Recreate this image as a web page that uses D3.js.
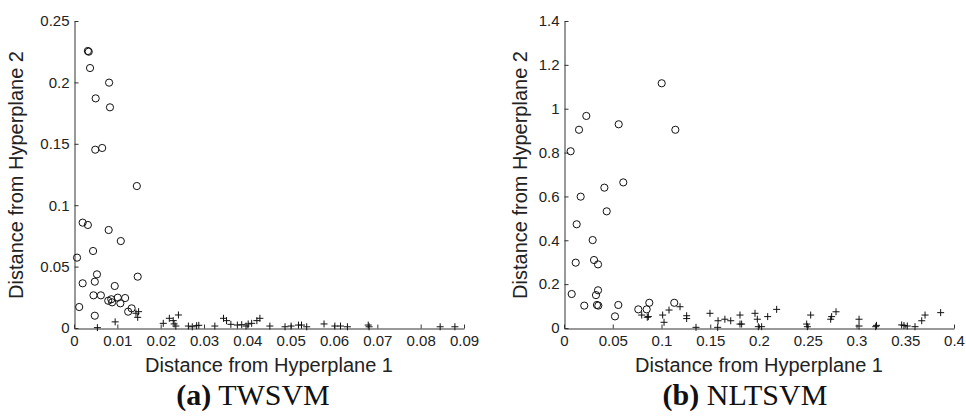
<!DOCTYPE html>
<html>
<head>
<meta charset="utf-8">
<script src="https://cdn.jsdelivr.net/npm/d3@7"></script>
<style>
  html, body { margin: 0; padding: 0; background: #fff; }
  svg { display: block; }
</style>
</head>
<body>
<svg id="chart" width="966" height="417"></svg>
<script>
// (a) TWSVM : [distance from hyperplane 1, distance from hyperplane 2]
const twsvmClass1 = [
  [0.0032, 0.2256], [0.0034, 0.2250], [0.0037, 0.2117], [0.0081, 0.1998], [0.0050, 0.1870],
  [0.0083, 0.1797], [0.0049, 0.1452], [0.0065, 0.1466], [0.0145, 0.1156], [0.0020, 0.0858],
  [0.0032, 0.0839], [0.0080, 0.0798], [0.0108, 0.0708], [0.0044, 0.0627], [0.0007, 0.0573],
  [0.0053, 0.0437], [0.0147, 0.0418], [0.0020, 0.0364], [0.0048, 0.0377], [0.0094, 0.0342],
  [0.0045, 0.0266], [0.0062, 0.0266], [0.0079, 0.0222], [0.0086, 0.0234], [0.0088, 0.0209],
  [0.0101, 0.0247], [0.0107, 0.0201], [0.0118, 0.0244], [0.0125, 0.0133], [0.0133, 0.0160],
  [0.0012, 0.0171], [0.0048, 0.0100]
];
const twsvmClass2 = [
  [0.0054, 0.0003], [0.0095, 0.0050], [0.0143, 0.0120], [0.0149, 0.0133], [0.0147, 0.0087],
  [0.0206, 0.0038], [0.0220, 0.0079], [0.0229, 0.0060], [0.0241, 0.0106], [0.0231, 0.0033],
  [0.0235, 0.0016], [0.0264, 0.0016], [0.0273, 0.0010], [0.0283, 0.0019], [0.0288, 0.0022],
  [0.0325, 0.0016], [0.0345, 0.0079], [0.0352, 0.0060], [0.0362, 0.0030], [0.0377, 0.0024],
  [0.0387, 0.0027], [0.0397, 0.0016], [0.0402, 0.0033], [0.0410, 0.0038], [0.0422, 0.0060],
  [0.0429, 0.0079], [0.0452, 0.0016], [0.0487, 0.0010], [0.0501, 0.0016], [0.0518, 0.0024],
  [0.0525, 0.0024], [0.0537, 0.0010], [0.0577, 0.0033], [0.0602, 0.0016], [0.0615, 0.0016],
  [0.0631, 0.0010], [0.0679, 0.0024], [0.0681, 0.0010], [0.0845, 0.0010], [0.0879, 0.0010]
];
const twsvmXTicks = [0, 0.01, 0.02, 0.03, 0.04, 0.05, 0.06, 0.07, 0.08, 0.09];
const twsvmYTicks = [0, 0.05, 0.1, 0.15, 0.2, 0.25];

// (b) NLTSVM
const nltsvmClass1 = [
  [0.1002, 1.116], [0.1142, 0.904], [0.0229, 0.967], [0.0154, 0.904], [0.0561, 0.929],
  [0.0068, 0.806], [0.0608, 0.664], [0.0414, 0.640], [0.0171, 0.599], [0.0438, 0.532],
  [0.0130, 0.473], [0.0294, 0.401], [0.0120, 0.298], [0.0308, 0.310], [0.0349, 0.290],
  [0.0079, 0.155], [0.0349, 0.172], [0.0328, 0.150], [0.0208, 0.102], [0.0338, 0.105],
  [0.0352, 0.102], [0.0557, 0.105], [0.0523, 0.053], [0.0762, 0.085], [0.0848, 0.085],
  [0.0875, 0.115], [0.1131, 0.115]
];
const nltsvmClass2 = [
  [0.0797, 0.059], [0.0854, 0.049], [0.0865, 0.052], [0.1012, 0.059], [0.1026, 0.026],
  [0.1077, 0.082], [0.1190, 0.097], [0.1258, 0.056], [0.1258, 0.043], [0.1354, 0.003],
  [0.1497, 0.067], [0.1580, 0.033], [0.1576, 0.003], [0.1650, 0.040], [0.1710, 0.033],
  [0.1805, 0.059], [0.1805, 0.018], [0.1822, 0.018], [0.1959, 0.067], [0.1983, 0.040],
  [0.1993, 0.006], [0.2027, 0.006], [0.2089, 0.052], [0.2181, 0.085], [0.2489, 0.018],
  [0.2496, 0.006], [0.2530, 0.059], [0.2735, 0.040], [0.2745, 0.052], [0.2790, 0.074],
  [0.3026, 0.040], [0.3026, 0.009], [0.3197, 0.006], [0.3205, 0.012], [0.3463, 0.014],
  [0.3487, 0.011], [0.3521, 0.009], [0.3600, 0.006], [0.3669, 0.033], [0.3703, 0.059],
  [0.3863, 0.070]
];
const nltsvmXTicks = [0, 0.05, 0.1, 0.15, 0.2, 0.25, 0.3, 0.35, 0.4];
const nltsvmYTicks = [0, 0.2, 0.4, 0.6, 0.8, 1, 1.2, 1.4];

const xLabel = "Distance from Hyperplane 1";
const yLabel = "Distance from Hyperplane 2";

const svg = d3.select("#chart");
const sans = "'Liberation Sans', Arial, Helvetica, sans-serif";
const serif = "'Liberation Serif', 'Times New Roman', serif";

function drawPanel(opts) {
  const x = d3.scaleLinear().domain(opts.xDomain).range([opts.left, opts.left + 390]);
  const y = d3.scaleLinear().domain(opts.yDomain).range([328, 21]);

  const g = svg.append("g");

  // axes, MATLAB style: ticks pointing inside, no box
  const xAxis = d3.axisBottom(x).tickValues(opts.xTicks).tickFormat(d => String(+d.toFixed(3)))
    .tickSizeInner(-4).tickSizeOuter(0).tickPadding(7);
  const yAxis = d3.axisLeft(y).tickValues(opts.yTicks).tickFormat(d => String(+d.toFixed(3)))
    .tickSizeInner(-4).tickSizeOuter(0).tickPadding(5);

  const gx = g.append("g").attr("transform", "translate(0,328.5)").call(xAxis);
  const gy = g.append("g").attr("transform", `translate(${opts.left + 0.5},0)`).call(yAxis);

  [gx, gy].forEach(a => {
    a.selectAll("path, line").attr("stroke", "#333").attr("stroke-width", 1);
    a.selectAll("text").attr("fill", "#222").style("font-family", sans).style("font-size", "15px");
  });

  // class +1 : circles
  g.selectAll("circle.c1")
    .data(opts.class1)
    .join("circle")
    .attr("class", "c1")
    .attr("cx", d => x(d[0]))
    .attr("cy", d => y(d[1]))
    .attr("r", 3.6)
    .attr("fill", "none")
    .attr("stroke", "#111")
    .attr("stroke-width", 1);

  // class -1 : plus signs
  g.selectAll("path.c2")
    .data(opts.class2)
    .join("path")
    .attr("class", "c2")
    .attr("transform", d => `translate(${x(d[0])},${y(d[1])})`)
    .attr("d", "M-3.5,0H3.5M0,-3.5V3.5")
    .attr("stroke", "#111")
    .attr("stroke-width", 1)
    .attr("fill", "none");

  // axis titles
  g.append("text")
    .attr("x", opts.left + 195)
    .attr("y", 372)
    .attr("text-anchor", "middle")
    .attr("fill", "#222")
    .style("font-family", sans)
    .style("font-size", "20px")
    .text(xLabel);

  g.append("text")
    .attr("transform", `translate(${opts.left - opts.yLabelOffset},175) rotate(-90)`)
    .attr("text-anchor", "middle")
    .attr("fill", "#222")
    .style("font-family", sans)
    .style("font-size", "20px")
    .text(yLabel);

  // caption
  const cap = g.append("text")
    .attr("x", opts.captionX)
    .attr("y", 405)
    .attr("text-anchor", "middle")
    .attr("fill", "#111")
    .style("font-family", serif)
    .style("font-size", "30px");
  cap.append("tspan").style("font-weight", "bold").text(opts.tag);
  cap.append("tspan").text(" " + opts.name);
}

drawPanel({
  left: 74, xDomain: [0, 0.09], yDomain: [0, 0.25],
  xTicks: twsvmXTicks, yTicks: twsvmYTicks,
  class1: twsvmClass1, class2: twsvmClass2,
  yLabelOffset: 51,
  tag: "(a)", name: "TWSVM", captionX: 253
});

drawPanel({
  left: 564, xDomain: [0, 0.4], yDomain: [0, 1.4],
  xTicks: nltsvmXTicks, yTicks: nltsvmYTicks,
  class1: nltsvmClass1, class2: nltsvmClass2,
  yLabelOffset: 37,
  tag: "(b)", name: "NLTSVM", captionX: 745
});
</script>
</body>
</html>
